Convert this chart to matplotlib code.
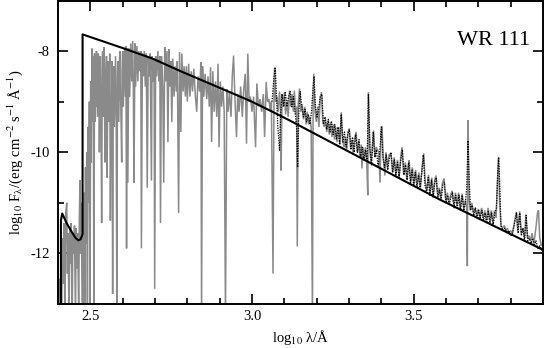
import matplotlib
matplotlib.use("Agg")
import matplotlib.pyplot as plt
from matplotlib.ticker import MultipleLocator, FixedLocator

plt.rcParams['font.family'] = ['Liberation Serif', 'DejaVu Serif']
plt.rcParams['mathtext.fontset'] = 'stix'
plt.rcParams['axes.unicode_minus'] = False

# ---------------- data (log10 wavelength [A], log10 flux) ----------------
# model continuum / blackbody-like envelope (black solid)
cont_logw = [2.409, 2.409, 2.413, 2.425, 2.440, 2.455, 2.463, 2.470, 2.476, 2.476,
             2.600, 2.693, 2.780, 2.993, 3.054, 3.116, 3.579, 3.897]
cont_logf = [-13.5, -11.35, -11.21, -11.38, -11.55, -11.70, -11.74, -11.72, -11.62, -7.67,
             -7.94, -8.15, -8.40, -8.98, -9.17, -9.37, -10.93, -11.92]

# model spectrum (grey), far-UV part
model_fuv = [(2.401, -13.3), (2.404, -12.5), (2.406, -13.3), (2.409, -12.2), (2.411, -13.3),
             (2.414, -11.7), (2.416, -12.6), (2.419, -11.4), (2.421, -13.3), (2.424, -11.2),
             (2.427, -11.0), (2.429, -12.4), (2.431, -11.6), (2.434, -13.3), (2.437, -11.5),
             (2.439, -12.2), (2.441, -11.4), (2.444, -13.3), (2.446, -11.6), (2.449, -12.0),
             (2.451, -11.45), (2.454, -13.3), (2.456, -11.5), (2.459, -12.3), (2.461, -11.6),
             (2.464, -13.3), (2.466, -11.3), (2.468, -10.55), (2.470, -12.0), (2.472, -11.0),
             (2.475, -13.3), (2.477, -11.2), (2.480, -13.3),
             (2.481, -10.8), (2.483, -13.3), (2.485, -10.3), (2.487, -11.8), (2.489, -10.0),
             (2.491, -13.3), (2.493, -9.5), (2.495, -11.0), (2.497, -9.0), (2.499, -13.3),
             (2.501, -8.6), (2.503, -10.2), (2.505, -7.95), (2.507, -9.4), (2.509, -8.1),
             (2.511, -13.3), (2.513, -8.05)]

# model spectrum (grey), EUV absorption forest
model_euv = [(2.515, -9.4), (2.516, -8.3), (2.518, -9.1), (2.519, -8.0), (2.521, -8.8),
             (2.522, -9.3), (2.524, -8.1), (2.525, -8.05), (2.527, -9.0), (2.528, -10.0),
             (2.530, -8.4), (2.531, -8.1), (2.533, -9.2), (2.535, -11.4), (2.537, -8.3),
             (2.538, -8.0), (2.540, -9.3), (2.541, -9.0), (2.543, -7.92), (2.545, -10.2),
             (2.547, -8.8), (2.549, -8.3), (2.550, -8.1), (2.552, -10.5), (2.554, -8.5),
             (2.555, -8.2), (2.557, -9.4), (2.558, -9.1), (2.560, -8.05), (2.562, -11.35),
             (2.564, -9.5), (2.566, -8.6), (2.567, -8.2), (2.569, -12.8), (2.571, -8.6),
             (2.572, -8.3), (2.574, -9.5), (2.575, -9.2), (2.577, -8.4), (2.578, -8.1),
             (2.580, -9.3), (2.582, -13.3), (2.584, -8.5), (2.585, -8.2), (2.587, -9.0),
             (2.588, -9.4), (2.590, -8.3), (2.591, -8.0), (2.593, -8.9), (2.594, -9.0),
             (2.597, -10.2), (2.598, -8.4), (2.600, -8.0), (2.602, -9.1), (2.603, -8.8),
             (2.606, -7.93), (2.608, -8.6), (2.609, -8.9), (2.610, -7.9),
             (2.612, -11.9), (2.614, -7.95), (2.616, -10.6), (2.619, -7.95), (2.621, -8.9),
             (2.622, -8.7), (2.625, -7.85), (2.628, -8.6), (2.631, -7.8), (2.633, -8.7),
             (2.635, -10.6), (2.638, -7.85), (2.640, -8.7),
             (2.641, -8.5), (2.644, -7.9), (2.647, -8.6), (2.650, -8.0), (2.653, -8.4),
             (2.656, -8.0), (2.658, -11.9), (2.661, -8.05), (2.664, -8.5), (2.667, -8.0),
             (2.670, -8.7), (2.673, -8.05), (2.676, -10.7), (2.679, -8.1), (2.682, -8.5),
             (2.685, -8.05), (2.689, -10.56), (2.691, -8.1), (2.694, -8.6), (2.697, -8.15),
             (2.699, -12.7), (2.702, -8.1)]

# model spectrum (grey), soft X/EUV to 3.06
model_muv = [(2.705, -8.5), (2.709, -8.0), (2.712, -8.6), (2.715, -8.1), (2.717, -11.4),
             (2.720, -8.1), (2.724, -8.7), (2.727, -10.6), (2.730, -7.92), (2.733, -8.6),
             (2.737, -8.0), (2.740, -9.8), (2.743, -7.96), (2.746, -8.7), (2.749, -8.2),
             (2.752, -9.4), (2.755, -8.15), (2.759, -8.9), (2.762, -8.3), (2.766, -8.8),
             (2.769, -8.2), (2.773, -11.2), (2.776, -8.02), (2.780, -9.6), (2.783, -8.05),
             (2.787, -8.8), (2.790, -8.3), (2.794, -8.9), (2.797, -8.3), (2.800, -9.0),
             (2.804, -8.25), (2.808, -8.9), (2.812, -8.4), (2.816, -8.8), (2.820, -8.35),
             (2.825, -8.9), (2.829, -9.2), (2.833, -8.5), (2.838, -8.8), (2.842, -8.22),
             (2.844, -13.3), (2.847, -8.3), (2.851, -8.9), (2.855, -8.45), (2.860, -8.95),
             (2.864, -8.5), (2.868, -9.1), (2.872, -8.32), (2.875, -9.8), (2.879, -8.4),
             (2.883, -9.2), (2.887, -8.6), (2.891, -9.3), (2.895, -8.25), (2.898, -9.9),
             (2.902, -8.6), (2.906, -9.1), (2.910, -8.7), (2.914, -9.2), (2.918, -13.3),
             (2.922, -8.75), (2.926, -9.2), (2.930, -8.8), (2.935, -9.3), (2.939, -8.5),
             (2.943, -8.09), (2.947, -8.9), (2.952, -9.7), (2.956, -8.85), (2.960, -9.2),
             (2.965, -8.7), (2.970, -9.3), (2.974, -8.8), (2.979, -8.45), (2.983, -9.83),
             (2.987, -8.05), (2.991, -9.0), (2.995, -8.9), (3.000, -9.2), (3.005, -8.9),
             (3.011, -9.9), (3.015, -8.64), (3.020, -9.1), (3.025, -8.95), (3.030, -9.2),
             (3.035, -8.85), (3.039, -9.7), (3.044, -8.61), (3.048, -9.0), (3.052, -8.95),
             (3.057, -9.2)]

# model spectrum (grey), emission-line region
model_xray = [(3.060, -9.0), (3.065, -12.4), (3.068, -8.9), (3.070, -8.33), (3.073, -9.0),
              (3.077, -8.9), (3.081, -9.2), (3.085, -8.8), (3.088, -9.1), (3.090, -10.36),
              (3.093, -8.85), (3.097, -9.1), (3.100, -8.82), (3.104, -9.25), (3.108, -9.0),
              (3.112, -9.3), (3.116, -8.78), (3.120, -9.1), (3.124, -8.85), (3.128, -9.2),
              (3.131, -8.78), (3.135, -9.25), (3.138, -9.1), (3.140, -11.86), (3.143, -9.05),
              (3.147, -8.74), (3.151, -9.2), (3.155, -9.05), (3.159, -9.35), (3.163, -9.1),
              (3.167, -9.45), (3.171, -9.2), (3.175, -9.45), (3.179, -9.3), (3.183, -9.5),
              (3.187, -13.3), (3.189, -9.0), (3.191, -8.45), (3.195, -9.2), (3.199, -9.4),
              (3.203, -9.1), (3.207, -9.5), (3.211, -8.95), (3.215, -8.81), (3.219, -9.4),
              (3.223, -9.5), (3.227, -9.35), (3.231, -9.6), (3.235, -9.4), (3.239, -9.65),
              (3.243, -9.4), (3.247, -9.7), (3.251, -9.45), (3.255, -9.75), (3.259, -9.5),
              (3.263, -9.8), (3.268, -9.5), (3.272, -9.85), (3.276, -9.21), (3.280, -9.75),
              (3.285, -9.9), (3.289, -9.7), (3.293, -9.95), (3.297, -9.6), (3.301, -9.53),
              (3.305, -9.9), (3.309, -9.75), (3.313, -10.05), (3.318, -9.7), (3.322, -9.6),
              (3.326, -10.0), (3.330, -9.8), (3.334, -10.1), (3.338, -9.85), (3.340, -10.32),
              (3.343, -9.9), (3.347, -10.15), (3.351, -9.9), (3.355, -10.2), (3.358, -10.85),
              (3.360, -8.81), (3.364, -9.9), (3.368, -10.2), (3.372, -9.9), (3.376, -9.57),
              (3.380, -10.1), (3.384, -9.9), (3.392, -10.0), (3.396, -10.6), (3.399, -9.6),
              (3.402, -9.49), (3.406, -10.1), (3.411, -10.46), (3.414, -10.0), (3.419, -10.3),
              (3.424, -10.05), (3.430, -10.02), (3.435, -10.4), (3.440, -10.1), (3.445, -10.45),
              (3.450, -10.15), (3.455, -10.5), (3.460, -10.1), (3.464, -9.9), (3.469, -10.45),
              (3.474, -10.2), (3.479, -10.55), (3.483, -10.25), (3.486, -10.16), (3.491, -10.6),
              (3.496, -10.3), (3.501, -10.65), (3.506, -10.35), (3.511, -10.65), (3.516, -10.4),
              (3.521, -10.7), (3.526, -10.3), (3.531, -10.02), (3.536, -10.6), (3.541, -10.75),
              (3.546, -10.45), (3.551, -10.8), (3.556, -10.5), (3.561, -10.85), (3.565, -10.55),
              (3.569, -10.46), (3.574, -10.85), (3.579, -10.7), (3.584, -10.9), (3.589, -10.6),
              (3.594, -10.52), (3.599, -10.95), (3.604, -10.8), (3.609, -11.0), (3.614, -10.85),
              (3.619, -10.76), (3.624, -11.05), (3.629, -10.8), (3.634, -11.05), (3.639, -10.8),
              (3.644, -11.1), (3.650, -10.82), (3.655, -11.1), (3.660, -10.95), (3.664, -11.1),
              (3.666, -12.25), (3.668, -9.37), (3.671, -10.9), (3.675, -11.15), (3.680, -11.0),
              (3.685, -11.2), (3.690, -11.1), (3.695, -11.25), (3.700, -11.12), (3.705, -11.3),
              (3.710, -11.1), (3.715, -11.3), (3.720, -11.15), (3.725, -11.35), (3.730, -11.1),
              (3.735, -11.35), (3.740, -11.15), (3.745, -11.4), (3.750, -11.15), (3.755, -11.3),
              (3.759, -10.6), (3.762, -10.10), (3.766, -11.0), (3.770, -11.45), (3.775, -11.5),
              (3.780, -11.45), (3.785, -11.55), (3.790, -11.5), (3.795, -11.6), (3.800, -11.55),
              (3.805, -11.6), (3.810, -11.45), (3.814, -11.3), (3.818, -11.18), (3.822, -11.55),
              (3.828, -11.17), (3.833, -11.6), (3.838, -11.5), (3.843, -11.7), (3.847, -11.23),
              (3.852, -11.7), (3.857, -11.65), (3.862, -11.75), (3.866, -11.6), (3.872, -11.8),
              (3.878, -11.5), (3.883, -11.2), (3.886, -11.15), (3.890, -11.7), (3.895, -11.85),
              (3.900, -11.8)]

# observed spectrum (black dotted)
obs_spec = [(3.062, -9.0), (3.068, -8.5), (3.072, -8.32), (3.076, -8.9), (3.080, -9.5),
            (3.085, -9.96), (3.089, -9.2), (3.093, -8.85), (3.098, -9.1), (3.103, -8.8),
            (3.108, -9.1), (3.113, -8.9), (3.118, -8.8), (3.123, -9.1), (3.128, -8.9),
            (3.133, -9.2), (3.138, -9.5), (3.141, -10.3), (3.145, -9.2), (3.149, -8.8),
            (3.154, -9.1), (3.159, -9.3), (3.164, -9.15), (3.169, -9.4), (3.174, -9.25),
            (3.179, -9.45), (3.184, -9.2), (3.189, -8.7), (3.192, -8.5), (3.196, -9.1),
            (3.201, -9.3), (3.206, -9.15), (3.211, -8.9), (3.216, -8.85), (3.221, -9.45),
            (3.226, -9.3), (3.231, -9.55), (3.236, -9.35), (3.241, -9.6), (3.246, -9.4),
            (3.251, -9.65), (3.256, -9.45), (3.261, -9.75), (3.266, -9.5), (3.271, -9.85),
            (3.276, -9.25), (3.281, -9.8), (3.286, -9.6), (3.291, -9.9), (3.296, -9.65),
            (3.301, -9.55), (3.306, -9.95), (3.311, -9.7), (3.316, -10.0), (3.321, -9.65),
            (3.326, -10.0), (3.331, -9.75), (3.336, -10.1), (3.341, -9.9), (3.346, -10.15),
            (3.351, -9.95), (3.356, -10.2), (3.360, -8.85), (3.365, -9.95), (3.370, -10.25),
            (3.375, -9.6), (3.380, -10.1), (3.385, -9.95), (3.390, -10.3), (3.395, -10.0),
            (3.400, -9.5), (3.405, -10.1), (3.410, -10.3), (3.415, -10.05), (3.420, -10.35),
            (3.425, -10.1), (3.430, -10.0), (3.435, -10.4), (3.440, -10.15), (3.445, -10.45),
            (3.450, -10.2), (3.455, -10.5), (3.460, -10.15), (3.465, -9.95), (3.470, -10.45),
            (3.475, -10.25), (3.480, -10.55), (3.485, -10.2), (3.490, -10.6), (3.495, -10.35),
            (3.500, -10.65), (3.505, -10.4), (3.510, -10.7), (3.515, -10.45), (3.520, -10.7),
            (3.525, -10.4), (3.530, -10.05), (3.535, -10.65), (3.540, -10.8), (3.545, -10.5),
            (3.550, -10.85), (3.555, -10.55), (3.560, -10.9), (3.565, -10.6), (3.570, -10.5),
            (3.575, -10.9), (3.580, -10.75), (3.585, -10.95), (3.590, -10.65), (3.595, -10.6),
            (3.600, -11.0), (3.605, -10.85), (3.610, -11.05), (3.615, -10.9), (3.620, -10.8),
            (3.625, -11.1), (3.630, -10.85), (3.635, -11.1), (3.640, -10.85), (3.645, -11.15),
            (3.650, -10.85), (3.655, -11.15), (3.660, -11.0), (3.664, -10.7), (3.668, -9.77),
            (3.672, -10.6), (3.676, -11.15), (3.681, -11.05), (3.686, -11.25), (3.691, -11.1),
            (3.696, -11.3), (3.701, -11.15), (3.706, -11.3), (3.711, -11.15), (3.716, -11.35),
            (3.721, -11.2), (3.726, -11.4), (3.731, -11.15), (3.736, -11.4), (3.741, -11.2),
            (3.746, -11.45), (3.751, -11.2), (3.756, -11.1), (3.760, -10.4), (3.763, -10.1),
            (3.766, -10.6), (3.770, -11.45), (3.776, -11.55), (3.782, -11.5), (3.788, -11.6),
            (3.794, -11.55), (3.800, -11.65), (3.806, -11.6), (3.812, -11.4), (3.818, -11.2),
            (3.823, -11.6), (3.828, -11.2), (3.833, -11.65), (3.838, -11.5), (3.843, -11.75),
            (3.848, -11.25), (3.853, -11.75), (3.858, -11.7), (3.863, -11.8), (3.868, -11.7),
            (3.873, -11.85), (3.878, -11.75), (3.884, -11.9), (3.890, -11.85), (3.898, -11.95)]

x_major = [2.5, 3.0, 3.5]
x_labels = ['2.5', '3.0', '3.5']
y_major = [-8, -10, -12]
y_labels = ['-8', '-10', '-12']
star_name = 'WR 111'

# ---------------- figure ----------------
fig = plt.figure(figsize=(5.45, 3.48), dpi=100)
ax = fig.add_axes([58 / 545, 44 / 348, 485 / 545, 303.5 / 348])

model = model_fuv + model_euv + model_muv + model_xray
ax.plot([p[0] for p in model], [p[1] for p in model], color='#8a8a8a', lw=1.1,
        solid_joinstyle='miter', zorder=2)
ax.plot([p[0] for p in obs_spec], [p[1] for p in obs_spec], color='black', lw=0.9,
        linestyle=(0, (1, 1)), zorder=3)
ax.plot(cont_logw, cont_logf, color='black', lw=1.5, zorder=4)

ax.set_xlim(2.4, 3.9)
ax.set_ylim(-13, -7)

ax.xaxis.set_major_locator(FixedLocator(x_major))
ax.set_xticklabels(x_labels)
ax.xaxis.set_minor_locator(MultipleLocator(0.1))
ax.yaxis.set_major_locator(FixedLocator(y_major))
ax.set_yticklabels(y_labels)
ax.yaxis.set_minor_locator(MultipleLocator(1))

ax.tick_params(which='both', direction='in', top=True, right=True, width=1.2,
               labelsize=10.5)
ax.tick_params(which='major', length=7.5)
ax.tick_params(axis='x', which='major', pad=4)
ax.tick_params(axis='y', which='major', pad=6)
ax.tick_params(which='minor', length=4)
for s in ax.spines.values():
    s.set_linewidth(1.4)

ax.set_xlabel('log$_{10}$ λ/Å', fontsize=10.5, labelpad=4)
ax.set_ylabel('log$_{10}$ F$_{\\mathrm{λ}}$/(erg cm$^{-2}$ s$^{-1}$ Å$^{-1}$)',
              fontsize=10.5, labelpad=4)

ax.text(0.973, 0.853, star_name, transform=ax.transAxes, ha='right', va='baseline',
        fontsize=16)

fig.savefig('out.png', dpi=100)
